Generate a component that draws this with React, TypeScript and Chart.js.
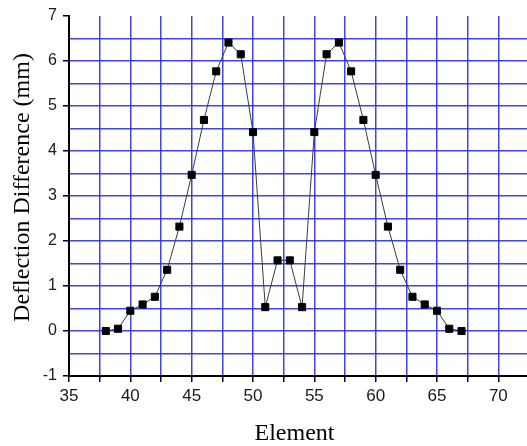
import { useEffect, useRef } from "react";
import { Chart, registerables } from "chart.js";

Chart.register(...registerables);

// Element numbers along the span and the measured deflection difference at each one
const elements = [
  38, 39, 40, 41, 42, 43, 44, 45, 46, 47, 48, 49, 50, 51, 52,
  53, 54, 55, 56, 57, 58, 59, 60, 61, 62, 63, 64, 65, 66, 67,
];
const deflection = [
  0, 0.05, 0.45, 0.59, 0.76, 1.36, 2.32, 3.47, 4.69, 5.77, 6.41, 6.15, 4.42, 0.53, 1.57,
  1.57, 0.53, 4.42, 6.15, 6.41, 5.77, 4.69, 3.47, 2.32, 1.36, 0.76, 0.59, 0.45, 0.05, 0,
];

const xTitle = "Element";
const yTitle = "Deflection Difference (mm)";
const xRange = [35, 72.5];
const yRange = [-1, 7];
const xStep = 2.5;
const yStep = 0.5;
const xLabelEvery = 5;

const GRID_BLUE = "rgba(45, 45, 235, 0.9)";
const SANS = "'Liberation Sans', Arial, sans-serif";
const SERIF = "'Liberation Serif', 'Times New Roman', serif";

const isMultiple = (v: number, m: number) => Math.abs(v / m - Math.round(v / m)) < 1e-6;

// Axis titles in serif type, placed relative to the plot area
const axisTitles = {
  id: "axisTitles",
  afterDraw(chart: any) {
    const { ctx, chartArea } = chart;
    ctx.save();
    ctx.fillStyle = "#000";
    ctx.font = `24px ${SERIF}`;
    ctx.textAlign = "center";
    ctx.textBaseline = "alphabetic";
    ctx.fillText(xTitle, chartArea.left + 225.5, chartArea.bottom + 64);
    ctx.translate(chartArea.left - 40.5, (chartArea.top + chartArea.bottom) / 2 - 8.5);
    ctx.rotate(-Math.PI / 2);
    ctx.fillText(yTitle, 0, 0);
    ctx.restore();
  },
};

export default function App() {
  const canvasRef = useRef<HTMLCanvasElement | null>(null);

  useEffect(() => {
    const canvas = canvasRef.current;
    if (!canvas) return;
    const points = elements.map((e, i) => ({ x: e, y: deflection[i] }));

    const chart = new Chart(canvas, {
      type: "line",
      data: {
        datasets: [
          {
            data: points,
            borderColor: "#3a3a3a",
            borderWidth: 1,
            pointStyle: "rect",
            pointRadius: 5,
            pointBackgroundColor: "#000",
            pointBorderColor: "#000",
            pointBorderWidth: 1,
            tension: 0,
          },
        ],
      },
      options: {
        responsive: false,
        animation: false,
        devicePixelRatio: 1,
        layout: { autoPadding: false, padding: { top: 16, left: 0, right: 0, bottom: 0 } },
        plugins: {
          legend: { display: false },
          tooltip: { enabled: false },
        },
        scales: {
          x: {
            type: "linear",
            min: xRange[0],
            max: xRange[1],
            afterFit: (s: any) => {
              s.height = 70;
              s.paddingRight = 0;
            },
            ticks: {
              stepSize: xStep,
              autoSkip: false,
              maxRotation: 0,
              padding: 4,
              color: "#1a1a1a",
              font: { family: SANS, size: 17 },
              callback: (v: any) => (isMultiple(Number(v), xLabelEvery) ? String(Math.round(Number(v))) : ""),
            },
            grid: {
              color: (c: any) => (c.tick && Math.abs(c.tick.value - xRange[0]) < 1e-6 ? "transparent" : GRID_BLUE),
              lineWidth: 1.5,
              tickColor: "#000",
              tickWidth: 1.5,
              tickLength: 6,
            },
            border: { color: "#000", width: 2 },
          },
          y: {
            type: "linear",
            min: yRange[0],
            max: yRange[1],
            afterFit: (s: any) => {
              s.width = 69;
            },
            ticks: {
              stepSize: yStep,
              autoSkip: false,
              padding: 6,
              color: "#1a1a1a",
              font: { family: SANS, size: 16 },
              callback: (v: any) => (isMultiple(Number(v), 1) ? String(Math.round(Number(v))) : ""),
            },
            grid: {
              color: (c: any) =>
                c.tick && (Math.abs(c.tick.value - yRange[1]) < 1e-6 || Math.abs(c.tick.value - yRange[0]) < 1e-6)
                  ? "transparent"
                  : GRID_BLUE,
              lineWidth: 1.5,
              tickColor: (c: any) => (c.tick && isMultiple(c.tick.value, 1) ? "#000" : "transparent"),
              tickWidth: 1.5,
              tickLength: 6,
            },
            border: { color: "#000", width: 2 },
          },
        },
      },
      plugins: [axisTitles],
    });

    return () => chart.destroy();
  }, []);

  return (
    <div
      style={{
        position: "fixed",
        left: 0,
        top: 0,
        width: 527,
        height: 446,
        overflow: "hidden",
        background: "#fff",
      }}
    >
      <canvas ref={canvasRef} width={529} height={446} style={{ display: "block", width: 529, height: 446 }} />
    </div>
  );
}
